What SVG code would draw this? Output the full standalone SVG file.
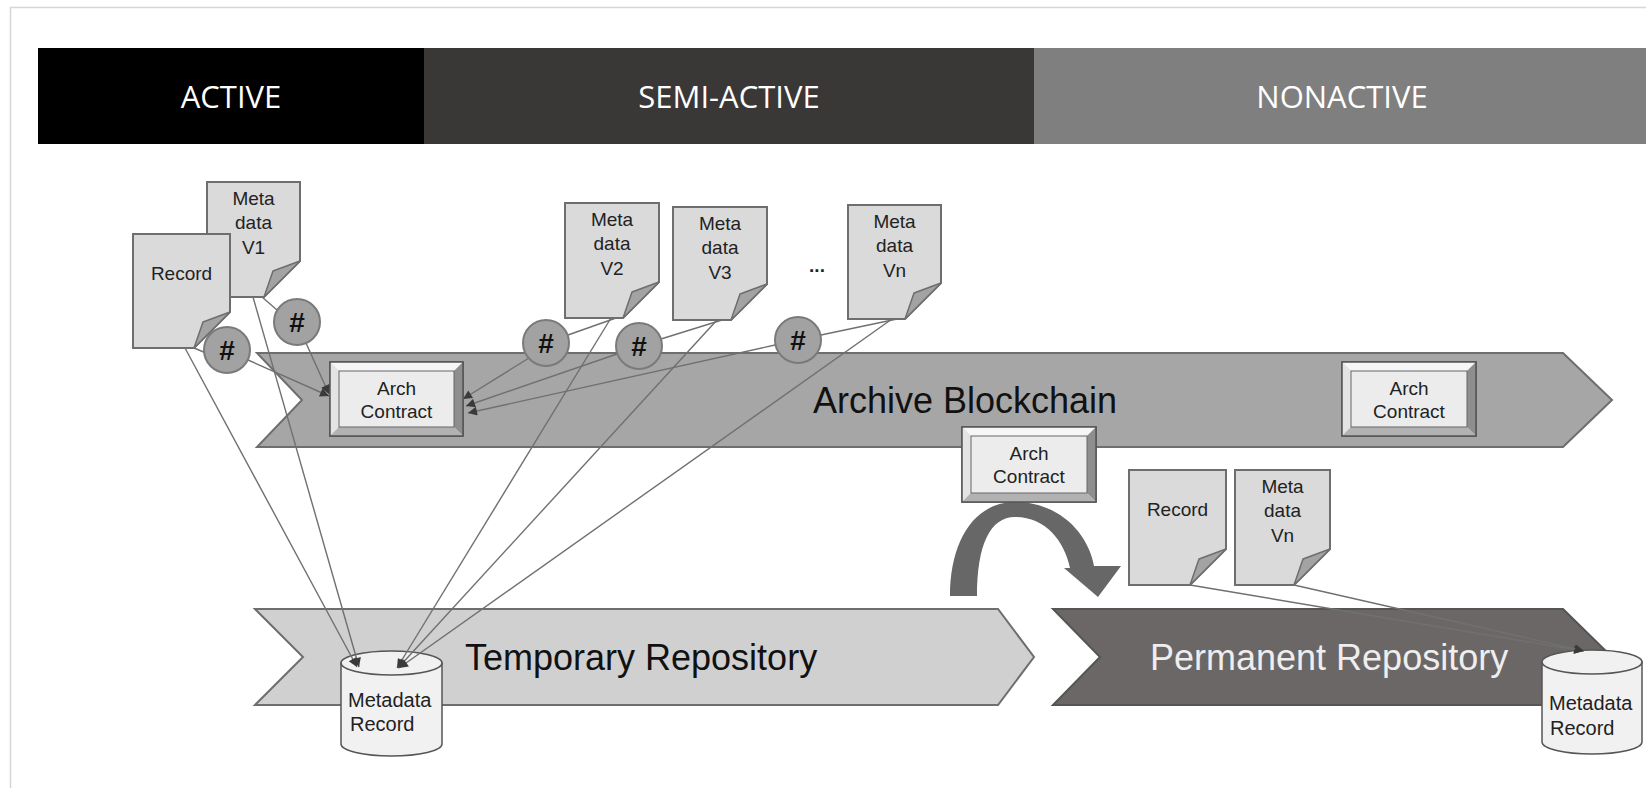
<svg xmlns="http://www.w3.org/2000/svg" width="1646" height="788" viewBox="0 0 1646 788">
<style>
.band{font-family:"Open Sans","Liberation Sans",sans-serif;font-size:31px;fill:#ffffff;text-anchor:middle}
.doc{fill:#dadada;stroke:#6e6e6e;stroke-width:2}
.fold{fill:#a3a3a3;stroke:#6e6e6e;stroke-width:1.5;stroke-linejoin:round}
.dt{font-family:"Liberation Sans",Arial,sans-serif;font-size:19px;fill:#222;text-anchor:middle}
.hash{fill:#a2a2a2;stroke:#7a7a7a;stroke-width:2}
.ht{font-family:"Liberation Sans",Arial,sans-serif;font-size:28px;font-weight:bold;fill:#111;text-anchor:middle}
.big{font-family:"Liberation Sans",Arial,sans-serif;font-size:36px}
.cyl{fill:#f1f1f1;stroke:#555;stroke-width:1.5}
.ct{font-family:"Liberation Sans",Arial,sans-serif;font-size:20px;fill:#222}
.ln{stroke:#707070;stroke-width:1.4;fill:none}
.la{stroke:#707070;stroke-width:1.4;fill:none;marker-end:url(#ah)}
.bx-o{fill:#dcdcdc;stroke:#555;stroke-width:1.5}
.bx-t{fill:#f6f6f6}
.bx-l{fill:#e4e4e4}
.bx-r{fill:#8e8e8e}
.bx-b{fill:#b2b2b2}
.bx-i{fill:#ececec;stroke:#666;stroke-width:1}
</style>
<defs>
<marker id="ah" viewBox="0 0 10 10" refX="10" refY="5" markerWidth="11" markerHeight="9" markerUnits="userSpaceOnUse" orient="auto"><path d="M0,0 L10,5 L0,10 Z" fill="#3a3a3a"/></marker>
</defs>
<rect x="0" y="0" width="1646" height="788" fill="#ffffff"/>
<rect x="10.5" y="7.5" width="1640" height="800" fill="none" stroke="#d6d6d6" stroke-width="1.5"/>

<g id="banner">
<rect x="38" y="48" width="386" height="96" fill="#000000"/>
<rect x="424" y="48" width="610" height="96" fill="#3a3737"/>
<rect x="1034" y="48" width="612" height="96" fill="#7f7f7f"/>
<text class="band" x="231" y="108">ACTIVE</text>
<text class="band" x="729" y="108">SEMI-ACTIVE</text>
<text class="band" x="1342" y="108">NONACTIVE</text>
</g>

<g id="archive-blockchain">
<polygon points="257,353 1563,353 1612,400 1563,447 257,447 302,400" fill="#a6a6a6" stroke="#6e6e6e" stroke-width="2"/>
<text class="big" x="813" y="413" fill="#111">Archive Blockchain</text>
</g>

<g id="temporary-repository">
<polygon points="255,609 998,609 1034,657 998,705 255,705 303,657" fill="#d0d0d0" stroke="#6e6e6e" stroke-width="2"/>
<text class="big" x="465" y="670" fill="#111">Temporary Repository</text>
</g>

<g id="permanent-repository">
<polygon points="1053,609 1563,609 1612,657 1563,705 1053,705 1100,657" fill="#6b6767" stroke="#555" stroke-width="2"/>
<text class="big" x="1150" y="670" fill="#eeeeee">Permanent Repository</text>
</g>

<g id="transfer-arrow">
<path d="M950,596 C950,540 975,502 1015,502 C1058,502 1088,532 1094,566 L1121,566 L1098,597 L1064,568 L1070,568 C1064,540 1045,517 1015,517 C990,517 977,545 977,596 Z" fill="#676767"/>
</g>

<g id="doc-meta-v1">
<path class="doc" d="M207,182 H300 V261 L264,297 H207 Z"/>
<path class="fold" d="M300,261 L273,271 L264,297 Z"/>
<text class="dt" x="253.5" y="205">Meta</text>
<text class="dt" x="253.5" y="229">data</text>
<text class="dt" x="253.5" y="254">V1</text>
</g>

<g id="doc-record">
<path class="doc" d="M133,234 H230 V312 L194,348 H133 Z"/>
<path class="fold" d="M230,312 L203,322 L194,348 Z"/>
<text class="dt" x="181.5" y="280">Record</text>
</g>

<g id="doc-meta-v2">
<path class="doc" d="M565,203 H659 V282 L623,318 H565 Z"/>
<path class="fold" d="M659,282 L632,292 L623,318 Z"/>
<text class="dt" x="612" y="226">Meta</text>
<text class="dt" x="612" y="250">data</text>
<text class="dt" x="612" y="275">V2</text>
</g>

<g id="doc-meta-v3">
<path class="doc" d="M673,207 H767 V284 L731,320 H673 Z"/>
<path class="fold" d="M767,284 L740,294 L731,320 Z"/>
<text class="dt" x="720" y="230">Meta</text>
<text class="dt" x="720" y="254">data</text>
<text class="dt" x="720" y="279">V3</text>
</g>

<g id="ellipsis">
<text class="dt" x="817" y="272" style="font-weight:bold">...</text>
</g>

<g id="doc-meta-vn">
<path class="doc" d="M848,205 H941 V283 L905,319 H848 Z"/>
<path class="fold" d="M941,283 L914,293 L905,319 Z"/>
<text class="dt" x="894.5" y="228">Meta</text>
<text class="dt" x="894.5" y="252">data</text>
<text class="dt" x="894.5" y="277">Vn</text>
</g>

<g id="doc-record-final">
<path class="doc" d="M1129,470 H1226 V549 L1190,585 H1129 Z"/>
<path class="fold" d="M1226,549 L1199,559 L1190,585 Z"/>
<text class="dt" x="1177.5" y="516">Record</text>
</g>

<g id="doc-meta-vn-final">
<path class="doc" d="M1235,470 H1330 V549 L1294,585 H1235 Z"/>
<path class="fold" d="M1330,549 L1303,559 L1294,585 Z"/>
<text class="dt" x="1282.5" y="493">Meta</text>
<text class="dt" x="1282.5" y="517">data</text>
<text class="dt" x="1282.5" y="542">Vn</text>
</g>

<g id="arch-contract-1">
<rect class="bx-o" x="330" y="362" width="133" height="74"/>
<polygon class="bx-t" points="330,362 463,362 454,371 339,371"/>
<polygon class="bx-l" points="330,362 339,371 339,427 330,436"/>
<polygon class="bx-r" points="463,362 463,436 454,427 454,371"/>
<polygon class="bx-b" points="330,436 463,436 454,427 339,427"/>
<rect class="bx-i" x="339" y="371" width="115" height="56"/>
<rect x="330" y="362" width="133" height="74" fill="none" stroke="#555" stroke-width="1.5"/>
<text class="dt" x="396.5" y="395">Arch</text>
<text class="dt" x="396.5" y="418">Contract</text>
</g>

<g id="arch-contract-2">
<rect class="bx-o" x="1342" y="362" width="134" height="74"/>
<polygon class="bx-t" points="1342,362 1476,362 1467,371 1351,371"/>
<polygon class="bx-l" points="1342,362 1351,371 1351,427 1342,436"/>
<polygon class="bx-r" points="1476,362 1476,436 1467,427 1467,371"/>
<polygon class="bx-b" points="1342,436 1476,436 1467,427 1351,427"/>
<rect class="bx-i" x="1351" y="371" width="116" height="56"/>
<rect x="1342" y="362" width="134" height="74" fill="none" stroke="#555" stroke-width="1.5"/>
<text class="dt" x="1409" y="395">Arch</text>
<text class="dt" x="1409" y="418">Contract</text>
</g>

<g id="arch-contract-3">
<rect class="bx-o" x="962" y="427" width="134" height="75"/>
<polygon class="bx-t" points="962,427 1096,427 1087,436 971,436"/>
<polygon class="bx-l" points="962,427 971,436 971,493 962,502"/>
<polygon class="bx-r" points="1096,427 1096,502 1087,493 1087,436"/>
<polygon class="bx-b" points="962,502 1096,502 1087,493 971,493"/>
<rect class="bx-i" x="971" y="436" width="116" height="57"/>
<rect x="962" y="427" width="134" height="75" fill="none" stroke="#555" stroke-width="1.5"/>
<text class="dt" x="1029" y="460">Arch</text>
<text class="dt" x="1029" y="483">Contract</text>
</g>

<g id="metadata-record-temp">
<path class="cyl" d="M341,663 V744 A50.5,12 0 0 0 442,744 V663 Z"/>
<ellipse class="cyl" cx="391.5" cy="663" rx="50.5" ry="12"/>
<text class="ct" x="348" y="707">Metadata</text>
<text class="ct" x="350" y="731">Record</text>
</g>

<g id="metadata-record-perm">
<path class="cyl" d="M1542,662 V742 A50,12 0 0 0 1642,742 V662 Z"/>
<ellipse class="cyl" cx="1592" cy="662" rx="50" ry="12"/>
<text class="ct" x="1549" y="710">Metadata</text>
<text class="ct" x="1550" y="735">Record</text>
</g>

<g id="connectors">
<line class="la" x1="185" y1="348" x2="357" y2="667"/>
<line class="la" x1="253" y1="297" x2="359" y2="667"/>
<line class="la" x1="611" y1="318" x2="397" y2="668"/>
<line class="la" x1="717" y1="320" x2="398" y2="668"/>
<line class="la" x1="892" y1="319" x2="399" y2="668"/>
<line class="ln" x1="194" y1="348" x2="206" y2="353"/>
<line class="ln" x1="262" y1="297" x2="277" y2="310"/>
<line class="ln" x1="616" y1="318" x2="568" y2="335"/>
<line class="ln" x1="722" y1="320" x2="661" y2="339"/>
<line class="ln" x1="897" y1="319" x2="821" y2="335"/>
<line class="la" x1="248" y1="360" x2="329" y2="396"/>
<line class="la" x1="306" y1="343" x2="329" y2="394"/>
<line class="la" x1="529" y1="358" x2="463" y2="399"/>
<line class="la" x1="617" y1="354" x2="466" y2="406"/>
<line class="la" x1="775" y1="345" x2="468" y2="413"/>
<line class="la" x1="1190" y1="585" x2="1583" y2="651"/>
<line class="la" x1="1294" y1="585" x2="1584" y2="651"/>
</g>

<g id="hash-1"><circle class="hash" cx="227" cy="350" r="23"/><text class="ht" x="227" y="360">#</text></g>
<g id="hash-2"><circle class="hash" cx="297" cy="322" r="23"/><text class="ht" x="297" y="332">#</text></g>
<g id="hash-3"><circle class="hash" cx="546" cy="343" r="23"/><text class="ht" x="546" y="353">#</text></g>
<g id="hash-4"><circle class="hash" cx="639" cy="346" r="23"/><text class="ht" x="639" y="356">#</text></g>
<g id="hash-5"><circle class="hash" cx="798" cy="340" r="23"/><text class="ht" x="798" y="350">#</text></g>
</svg>
